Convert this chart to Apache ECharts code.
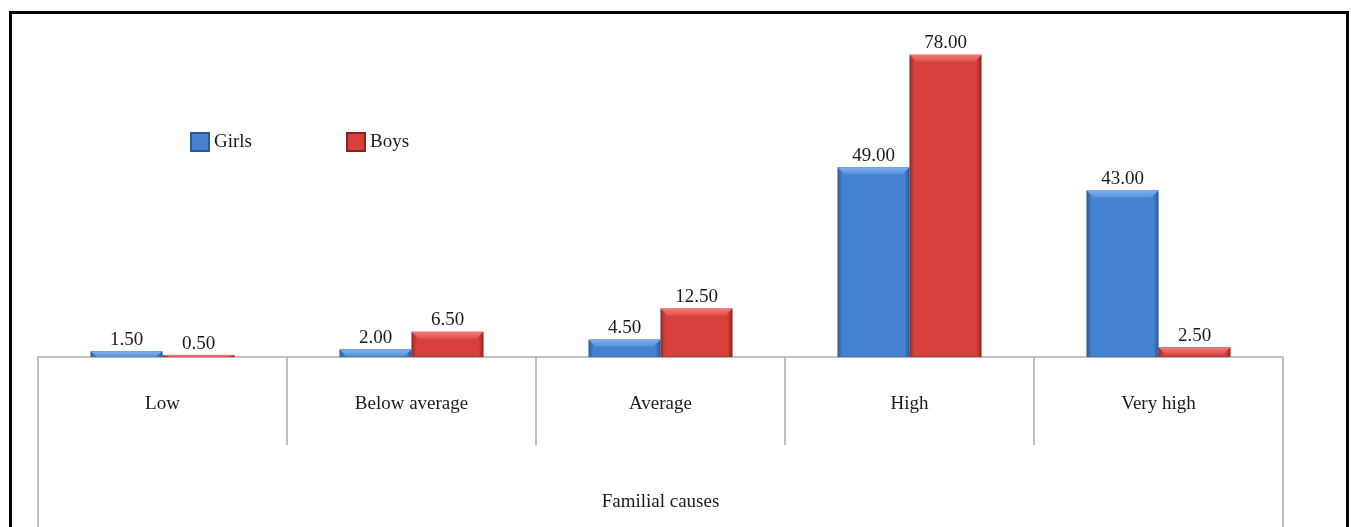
<!DOCTYPE html>
<html><head><meta charset="utf-8">
<script src="https://cdn.jsdelivr.net/npm/echarts@6/dist/echarts.min.js"></script>
<style>html,body{margin:0;padding:0;background:#fff}#c{width:1351px;height:527px}</style>
</head><body><div id="c"></div>
<script>
const categories = ['Low', 'Below average', 'Average', 'High', 'Very high'];
const girls = [1.5, 2.0, 4.5, 49.0, 43.0];
const boys = [0.5, 6.5, 12.5, 78.0, 2.5];
const groupTitle = ['Familial causes'];

const chart = echarts.init(document.getElementById('c'));
const serif = '"Liberation Serif", "DejaVu Serif", serif';
const BW = 72;
function grad(l, m, r) {
  return new echarts.graphic.LinearGradient(0, 0, 1, 0, [
    {offset: 0, color: l}, {offset: 0.07, color: m}, {offset: 0.93, color: m}, {offset: 1, color: r}
  ]);
}
function bevelData(vals) {
  return vals.map(v => ({value: v, symbolSize: [BW, Math.max(1, Math.min(7, v * 3.8))]}));
}
const bevelPath = 'path://M0,0 L72,0 L65,7 L7,7 Z';
const lbl = {show: true, position: 'top', distance: 2, color: '#1a1a1a', fontFamily: serif, fontSize: 19,
  formatter: p => p.value.toFixed(2)};
chart.setOption({
  animation: false,
  grid: {left: 38, right: 68, top: 47, bottom: 170},
  legend: {
    left: 185, top: 127, itemWidth: 18, itemHeight: 18, itemGap: 94, icon: 'rect',
    textStyle: {fontFamily: serif, fontSize: 19, color: '#1a1a1a'},
    data: ['Girls', 'Boys']
  },
  xAxis: [{
    type: 'category', data: categories, position: 'bottom',
    axisLine: {lineStyle: {color: '#aaa', width: 1.5}},
    axisTick: {show: true, length: 88, interval: 0, lineStyle: {color: '#aaa', width: 1.5}},
    axisLabel: {margin: 38, color: '#1a1a1a', fontFamily: serif, fontSize: 19, interval: 0}
  }, {
    type: 'category', data: groupTitle, position: 'bottom',
    axisLine: {show: false},
    axisTick: {show: true, length: 200, lineStyle: {color: '#aaa', width: 1.5}},
    axisLabel: {margin: 136, color: '#1a1a1a', fontFamily: serif, fontSize: 19}
  }],
  yAxis: {type: 'value', min: 0, max: 80, show: false, splitLine: {show: false}},
  series: [{
    name: 'Girls', type: 'bar', data: girls, barWidth: BW, barGap: '0%',
    itemStyle: {color: grad('#2c5b98', '#4583d0', '#2a5690'), borderColor: '#2e5a92', borderWidth: 0.6},
    label: lbl
  }, {
    name: 'Boys', type: 'bar', data: boys, barWidth: BW, barGap: '0%',
    itemStyle: {color: grad('#9c2927', '#d8403c', '#8a2422'), borderColor: '#8a2220', borderWidth: 0.6},
    label: lbl
  }, {
    name: 'Girls', type: 'pictorialBar', data: bevelData(girls), barWidth: BW, barGap: '0%',
    symbol: bevelPath, symbolPosition: 'end', z: 3, silent: true,
    itemStyle: {color: new echarts.graphic.LinearGradient(0, 0, 0, 1, [{offset: 0, color: '#7fb0ee'}, {offset: 1, color: '#5592dc'}])}
  }, {
    name: 'Boys', type: 'pictorialBar', data: bevelData(boys), barWidth: BW, barGap: '0%',
    symbol: bevelPath, symbolPosition: 'end', z: 3, silent: true,
    itemStyle: {color: new echarts.graphic.LinearGradient(0, 0, 0, 1, [{offset: 0, color: '#f27a74'}, {offset: 1, color: '#e2504b'}])}
  }],
  graphic: [{
    type: 'rect', shape: {x: 10.5, y: 12.5, width: 1337, height: 600},
    style: {fill: null, stroke: '#000', lineWidth: 3}, silent: true, z: 100
  }]
});
</script></body></html>
